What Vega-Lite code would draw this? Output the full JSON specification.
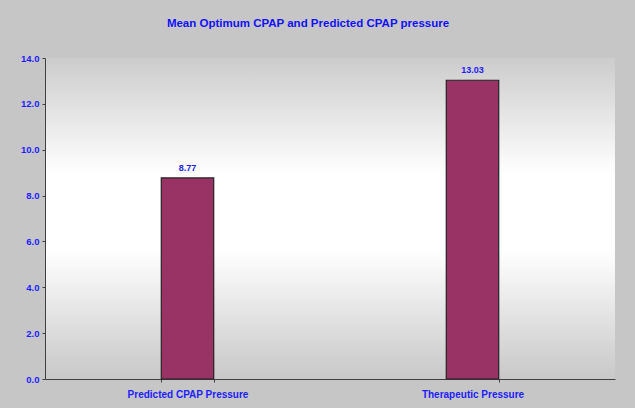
{
  "$schema": "https://vega.github.io/schema/vega-lite/v6.json",
  "autosize": "none",
  "width": 570,
  "height": 321,
  "padding": {"left": 45, "top": 58, "right": 20, "bottom": 29},
  "background": "#c6c6c6",
  "title": {
    "text": "Mean Optimum CPAP and Predicted CPAP pressure",
    "font": "Liberation Sans",
    "fontSize": 11.5,
    "fontWeight": "bold",
    "color": "#1010ff",
    "offset": 24,
    "dx": -22
  },
  "config": {
    "view": {
      "stroke": null,
      "fill": {
        "gradient": "linear",
        "x1": 0, "y1": 0, "x2": 0, "y2": 1,
        "stops": [
          {"offset": 0, "color": "#cccccc"},
          {"offset": 0.36, "color": "#ffffff"},
          {"offset": 0.6, "color": "#ffffff"},
          {"offset": 1, "color": "#c8c8c8"}
        ]
      }
    },
    "axis": {
      "labelFont": "Liberation Sans",
      "labelFontWeight": "bold",
      "labelColor": "#2020ff",
      "domainColor": "#404040",
      "tickColor": "#404040",
      "tickSize": 3,
      "grid": false,
      "title": null
    }
  },
  "data": {
    "values": [
      {"category": "Predicted CPAP Pressure", "value": 8.77},
      {"category": "Therapeutic Pressure", "value": 13.03}
    ]
  },
  "encoding": {
    "x": {
      "field": "category",
      "type": "nominal",
      "sort": null,
      "scale": {"paddingInner": 0.816, "paddingOuter": 0.408},
      "axis": {"labelAngle": 0, "labelFontSize": 10, "labelPadding": 7, "tickBand": "extent", "domainWidth": 1}
    },
    "y": {
      "field": "value",
      "type": "quantitative",
      "scale": {"domain": [0, 14], "nice": false},
      "axis": {"values": [0, 2, 4, 6, 8, 10, 12, 14], "format": ".1f", "labelFontSize": 9.5, "labelPadding": 3}
    }
  },
  "layer": [
    {
      "mark": {"type": "bar", "fill": "#993366", "stroke": "#222222", "strokeWidth": 1.2}
    },
    {
      "mark": {"type": "text", "dy": -10, "font": "Liberation Sans", "fontSize": 9, "fontWeight": "bold", "color": "#2020ff"},
      "encoding": {"text": {"field": "value", "type": "quantitative", "format": ".2f"}}
    }
  ]
}
